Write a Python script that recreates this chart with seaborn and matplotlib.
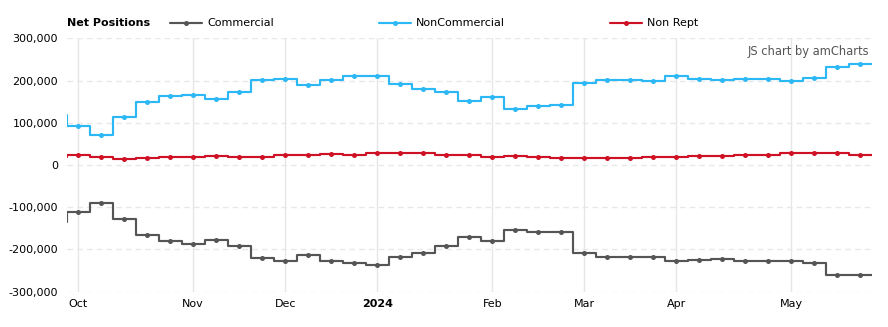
import numpy as np
import pandas as pd
import matplotlib
matplotlib.use("Agg")
import matplotlib.pyplot as plt
from matplotlib.lines import Line2D
import seaborn as sns

# ---- data (weekly COT net positions) ----
start_date = "2023-09-26"
commercial = [-136000, -111000, -89000, -127000, -165000, -181000, -186000, -177000, -191000,
              -220000, -227000, -212000, -227000, -231000, -236000, -217000, -208000, -191000,
              -170000, -179000, -153000, -158000, -158000, -208000, -217000, -217000, -217000,
              -227000, -224000, -222000, -227000, -227000, -227000, -231000, -260000, -260000]
noncommercial = [118000, 92000, 71000, 114000, 150000, 163000, 166000, 156000, 174000,
                 201000, 204000, 190000, 202000, 210000, 210000, 191000, 181000, 172000,
                 151000, 162000, 133000, 140000, 143000, 193000, 202000, 202000, 200000,
                 210000, 204000, 202000, 204000, 204000, 200000, 207000, 231000, 238000]
nonrept = [20000, 23000, 20000, 15000, 17000, 20000, 20000, 22000, 20000,
           20000, 24000, 24000, 27000, 24000, 29000, 29000, 29000, 24000,
           24000, 20000, 22000, 20000, 17000, 17000, 17000, 17000, 20000,
           20000, 22000, 22000, 24000, 24000, 29000, 29000, 29000, 24000]
series_names = ["Commercial", "NonCommercial", "Non Rept"]
series_colors = ["#555555", "#2cb7f5", "#cf1125"]
y_ticks = [-300000, -200000, -100000, 0, 100000, 200000, 300000]

dates = pd.date_range(start_date, periods=len(commercial), freq="7D")
idx = np.arange(len(dates))
df = pd.DataFrame({"idx": idx, "date": dates,
                   "Commercial": commercial, "NonCommercial": noncommercial, "Non Rept": nonrept})

sns.set_theme(style="white")
plt.rcParams["font.family"] = ["DejaVu Sans"]

fig = plt.figure(figsize=(8.88, 3.27), dpi=100)
ax = fig.add_axes([66.7 / 888, 1 - 291.7 / 327, (872 - 66.7) / 888, (291.7 - 38.3) / 327])

# month ticks: first data point of each month
month_change = [i for i in idx if i == 0 or dates[i].month != dates[i - 1].month][1:]
tick_labels = [str(dates[i].year) if dates[i].month == 1 else dates[i].strftime("%b") for i in month_change]

LW = 1.55
for name, col in zip(series_names, series_colors):
    sns.lineplot(data=df, x="idx", y=name, ax=ax, color=col, linewidth=LW,
                 drawstyle="steps-mid", marker="o", markersize=3.6, markeredgewidth=0,
                 solid_capstyle="butt", zorder=3)
    # extend last half-step like the reference
    ax.hlines(df[name].iloc[-1], idx[-1], idx[-1] + 0.5, color=col, linewidth=LW, zorder=3)

ax.set_xlim(0.5, idx[-1] + 0.5)
ax.set_ylim(y_ticks[0], y_ticks[-1])
ax.set_yticks(y_ticks)
ax.set_yticklabels([f"{v:,}" for v in y_ticks])
ax.set_xticks(month_change)
ax.set_xticklabels(tick_labels)
for lab in ax.get_xticklabels():
    if lab.get_text().isdigit():
        lab.set_fontweight("bold")
ax.set_xlabel("")
ax.set_ylabel("")
ax.tick_params(axis="both", length=0, labelsize=8, colors="#000000")
ax.tick_params(axis="y", pad=6.3)
ax.tick_params(axis="x", pad=5.5)
for s in ax.spines.values():
    s.set_visible(False)

for v in y_ticks:
    ax.axhline(v, color="#e8e8e8", linewidth=1, linestyle=(0, (4, 3)), zorder=1)
for t in month_change:
    ax.axvline(t, color="#e6e6e6", linewidth=1, zorder=1)

# legend (manual, in figure pixels)
def fx(px):
    return px / 888

ly = 1 - 22.5 / 327
fig.text(fx(67), ly, "Net Positions", fontsize=8, fontweight="bold", va="center", ha="left", color="#000000")
leg_x = [170, 379, 610]
for name, col, x0 in zip(series_names, series_colors, leg_x):
    fig.add_artist(Line2D([fx(x0), fx(x0 + 32)], [ly, ly], transform=fig.transFigure,
                          color=col, linewidth=LW))
    fig.add_artist(Line2D([fx(x0 + 16)], [ly], transform=fig.transFigure, color=col,
                          marker="o", markersize=3.6, markeredgewidth=0))
    fig.text(fx(x0 + 37), ly, name, fontsize=8, va="center", ha="left", color="#000000")

fig.text(fx(869), 1 - 51.7 / 327, "JS chart by amCharts", fontsize=8.3, va="center", ha="right",
         color="#555555")

fig.savefig("out.png", dpi=100)
